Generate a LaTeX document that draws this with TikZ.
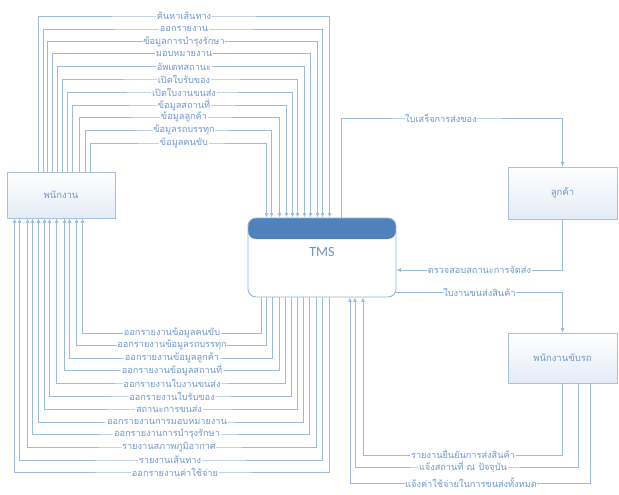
\documentclass[tikz,border=0pt]{standalone}
\usepackage{fontspec}
\newfontfamily\thaifont[Script=Thai]{Loma}
\newfontfamily\sysfont{Carlito}
\usetikzlibrary{arrows.meta}
\definecolor{flowblue}{RGB}{155,187,226}
\definecolor{textblue}{RGB}{112,152,206}
\definecolor{headblue}{RGB}{79,129,189}
\definecolor{boxline}{RGB}{165,192,226}
\definecolor{boxshade}{RGB}{228,235,246}
\begin{document}
\begin{tikzpicture}[x=1pt,y=-1pt,
    flow/.style={draw=flowblue,line width=0.9pt,-{Latex[length=4.5pt,width=4pt]}},
    lab/.style={fill=white,inner sep=0.6pt,text=textblue,font=\thaifont\fontsize{9.2}{10}\selectfont},
    entity/.style={draw=boxline,line width=0.8pt,top color=white,bottom color=boxshade,
        inner sep=0pt,text=textblue,font=\thaifont\fontsize{9.5}{11}\selectfont},
    process/.style={draw=boxline!80!headblue,line width=0.9pt,fill=white,rounded corners=8pt,
        minimum width=148pt,minimum height=79pt,inner sep=0pt,
        path picture={\fill[headblue] (path picture bounding box.north west) rectangle ([yshift=-21pt]path picture bounding box.north east);}}]
    \useasboundingbox (0,0) rectangle (619,495);

    \node[entity,minimum width=108pt,minimum height=46pt] (emp) at (61,195) {พนักงาน};
    \node[process] (tms) at (322,257.5) {};
    \node[text=headblue!85!white,font=\sysfont\fontsize{14}{16}\selectfont] (tmstxt) at ([yshift=5pt]tms.center) {TMS};
    \node[entity,minimum width=109pt,minimum height=52pt] (cust) at (562.5,193) {ลูกค้า};
    \node[entity,minimum width=109pt,minimum height=50pt] (driver) at (562.5,358) {พนักงานขับรถ};

    % พนักงาน -> TMS
    \draw[flow] ([xshift=31.5pt]emp.north west) |- (184,16) node[lab]{ค้นหาเส้นทาง} -| ([xshift=82pt]tms.north west);
    \draw[flow] ([xshift=36.5pt]emp.north west) |- (184,29) node[lab]{ออกรายงาน} -| ([xshift=75pt]tms.north west);
    \draw[flow] ([xshift=41pt]emp.north west) |- (184,41.5) node[lab]{ข้อมูลการบำรุงรักษา} -| ([xshift=70pt]tms.north west);
    \draw[flow] ([xshift=45.5pt]emp.north west) |- (184,53.5) node[lab]{มอบหมายงาน} -| ([xshift=63pt]tms.north west);
    \draw[flow] ([xshift=50.5pt]emp.north west) |- (184,66.5) node[lab]{อัพเดทสถานะ} -| ([xshift=57pt]tms.north west);
    \draw[flow] ([xshift=55.5pt]emp.north west) |- (184,79) node[lab]{เปิดใบรับของ} -| ([xshift=50pt]tms.north west);
    \draw[flow] ([xshift=60.5pt]emp.north west) |- (184,92) node[lab]{เปิดใบงานขนส่ง} -| ([xshift=45pt]tms.north west);
    \draw[flow] ([xshift=65.5pt]emp.north west) |- (184,105) node[lab]{ข้อมูลสถานที่} -| ([xshift=39pt]tms.north west);
    \draw[flow] ([xshift=73pt]emp.north west) |- (184,117) node[lab]{ข้อมูลลูกค้า} -| ([xshift=32pt]tms.north west);
    \draw[flow] ([xshift=78.5pt]emp.north west) |- (184,130) node[lab]{ข้อมูลรถบรรทุก} -| ([xshift=24pt]tms.north west);
    \draw[flow] ([xshift=83.5pt]emp.north west) |- (184,143) node[lab]{ข้อมูลคนขับ} -| ([xshift=19pt]tms.north west);

    % TMS -> พนักงาน
    \draw[flow] ([xshift=14pt]tms.south west) |- (172,333) node[lab]{ออกรายงานข้อมูลคนขับ} -| ([xshift=76pt]emp.south west);
    \draw[flow] ([xshift=19pt]tms.south west) |- (172,345) node[lab]{ออกรายงานข้อมูลรถบรรทุก} -| ([xshift=70pt]emp.south west);
    \draw[flow] ([xshift=25pt]tms.south west) |- (172,358) node[lab]{ออกรายงานข้อมูลลูกค้า} -| ([xshift=63pt]emp.south west);
    \draw[flow] ([xshift=32pt]tms.south west) |- (172,370) node[lab]{ออกรายงานข้อมูลสถานที่} -| ([xshift=58pt]emp.south west);
    \draw[flow] ([xshift=38pt]tms.south west) |- (172,383) node[lab]{ออกรายงานใบงานขนส่ง} -| ([xshift=50pt]emp.south west);
    \draw[flow] ([xshift=44pt]tms.south west) |- (172,396) node[lab]{ออกรายงานใบรับของ} -| ([xshift=43pt]emp.south west);
    \draw[flow] ([xshift=50pt]tms.south west) |- (169,409) node[lab]{สถานะการขนส่ง} -| ([xshift=38pt]emp.south west);
    \draw[flow] ([xshift=56pt]tms.south west) |- (167,422) node[lab]{ออกรายงานการมอบหมายงาน} -| ([xshift=32pt]emp.south west);
    \draw[flow] ([xshift=62pt]tms.south west) |- (167,434) node[lab]{ออกรายงานการบำรุงรักษา} -| ([xshift=26pt]emp.south west);
    \draw[flow] ([xshift=69pt]tms.south west) |- (169,447) node[lab]{รายงานสภาพภูมิอากาศ} -| ([xshift=21pt]emp.south west);
    \draw[flow] ([xshift=75pt]tms.south west) |- (170,460) node[lab]{รายงานเส้นทาง} -| ([xshift=13pt]emp.south west);
    \draw[flow] ([xshift=82pt]tms.south west) |- (175,472) node[lab]{ออกรายงานค่าใช้จ่าย} -| ([xshift=8pt]emp.south west);

    % ลูกค้า / พนักงานขับรถ
    \draw[flow] ([xshift=94pt]tms.north west) |- (441,118) node[lab]{ใบเสร็จการส่งของ} -| (cust.north);
    \draw[flow] (cust.south) |- node[lab,pos=0.75]{ตรวจสอบสถานะการจัดส่ง} ([yshift=-12.5pt]tms.east);
    \draw[flow] ([yshift=-34.5pt]tms.east) -| node[lab,pos=0.25]{ใบงานขนส่งสินค้า} (driver.north);
    \draw[flow] (driver.south) |- (463,455) node[lab]{รายงานยืนยันการส่งสินค้า} -| ([xshift=41pt]tms.south);
    \draw[flow] ([xshift=15.5pt]driver.south) |- (463,467) node[lab]{แจ้งสถานที่ ณ ปัจจุบัน} -| ([xshift=33pt]tms.south);
    \draw[flow] ([xshift=27.5pt]driver.south) |- (471,483) node[lab]{แจ้งค่าใช้จ่ายในการขนส่งทั้งหมด} -| ([xshift=28pt]tms.south);
\end{tikzpicture}
\end{document}
